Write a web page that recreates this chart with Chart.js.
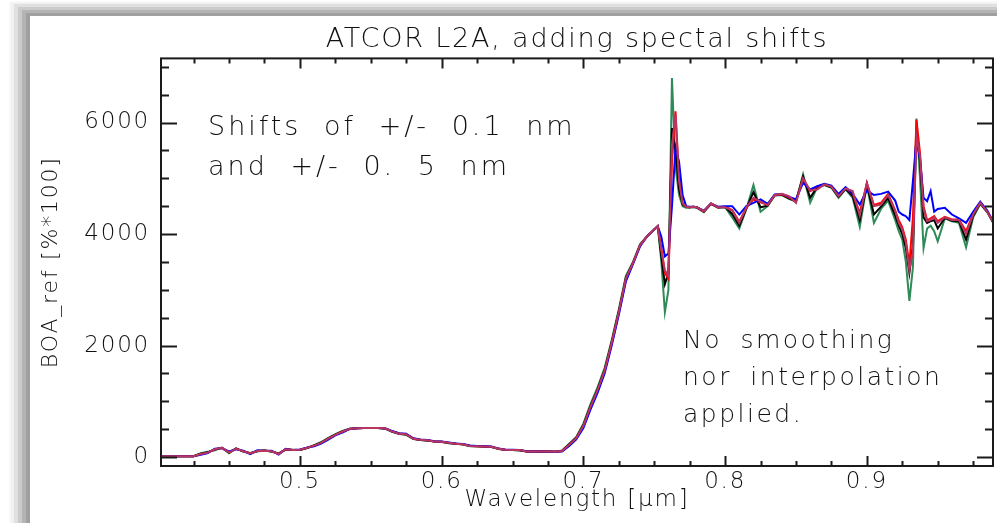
<!DOCTYPE html>
<html>
<head>
<meta charset="utf-8">
<script src="https://cdn.jsdelivr.net/npm/chart.js@4.4.0/dist/chart.umd.min.js"></script>
<style>
  html, body { margin: 0; padding: 0; background: #fff; }
  body { width: 997px; height: 523px; overflow: hidden; position: relative; }
  #panel {
    position: absolute; left: 30px; top: 16px; width: 1100px; height: 700px; background: #fff;
    box-shadow: -4px -3px 0 #a0a0a0, -8px -6px 0 #b4b4b4, -12px -9px 0 #cbcbcb,
                -16px -12px 0 #e0e0e0, -20px -14px 2px #f1f1f1;
  }
  #c { position: absolute; left: 0; top: 0; }
</style>
</head>
<body>
<div id="panel"></div>
<canvas id="c" width="997" height="523"></canvas>
<script>
// wavelength grid [um] - finer sampling around the O2 and H2O features
const wl = [
  0.400, 0.405, 0.410, 0.415, 0.420, 0.425, 0.430, 0.435, 0.440, 0.445,
  0.450, 0.455, 0.460, 0.465, 0.470, 0.475, 0.480, 0.485, 0.490, 0.495,
  0.500, 0.505, 0.510, 0.515, 0.520, 0.525, 0.530, 0.535, 0.540, 0.545,
  0.550, 0.555, 0.560, 0.565, 0.570, 0.575, 0.580, 0.585, 0.590, 0.595,
  0.600, 0.605, 0.610, 0.615, 0.620, 0.625, 0.630, 0.635, 0.640, 0.645,
  0.650, 0.655, 0.660, 0.665, 0.670, 0.675, 0.680, 0.685, 0.690, 0.695,
  0.700, 0.705, 0.710, 0.715, 0.720, 0.725, 0.730, 0.735, 0.740, 0.745,
  0.7475, 0.750, 0.7525, 0.755, 0.7575, 0.760, 0.7625, 0.765, 0.7675, 0.770,
  0.7725, 0.775, 0.7775, 0.780, 0.785, 0.790, 0.795, 0.800, 0.805, 0.810,
  0.815, 0.820, 0.825, 0.830, 0.835, 0.840, 0.845, 0.850, 0.855, 0.860,
  0.865, 0.870, 0.875, 0.880, 0.885, 0.890, 0.895, 0.900, 0.905, 0.910,
  0.915, 0.920, 0.9225, 0.925, 0.9275, 0.930, 0.9325, 0.935, 0.9375, 0.940,
  0.9425, 0.945, 0.9475, 0.950, 0.955, 0.960, 0.965, 0.970, 0.975, 0.980,
  0.985, 0.990
];

// BOA reflectance [%*100], no shift
const ref = [
  15, 15, 15, 15, 15, 15, 55, 80, 140, 165,
  85, 150, 105, 65, 110, 115, 105, 55, 140, 128,
  130, 165, 205, 255, 330, 400, 455, 505, 515, 520,
  520, 520, 515, 460, 420, 410, 330, 310, 300, 280,
  275, 255, 240, 230, 200, 195, 190, 185, 150, 130,
  128, 125, 100, 98, 98, 98, 95, 110, 220, 340,
  560, 900, 1200, 1550, 2050, 2600, 3200, 3480, 3800, 3960,
  4020, 4080, 4140, 3700, 3350, 3250, 5600, 6150, 4950, 4550,
  4490, 4480, 4490, 4480, 4410, 4550, 4480, 4480, 4420, 4200,
  4480, 4650, 4580, 4520, 4700, 4720, 4680, 4560, 5000, 4780,
  4800, 4890, 4850, 4680, 4820, 4770, 4330, 4920, 4500, 4530,
  4700, 4420, 4200, 4080, 3850, 3350, 3700, 5750, 5400, 4450,
  4230, 4250, 4300, 4200, 4300, 4250, 4250, 4000, 4350, 4560,
  4400, 4170
];

// shifted by -0.5 nm
const minus05 = [
  15, 15, 15, 15, 15, 15, 70, 95, 120, 170,
  70, 160, 95, 75, 100, 120, 95, 70, 130, 130,
  125, 160, 215, 270, 345, 410, 470, 510, 515, 520,
  520, 520, 510, 455, 415, 400, 325, 305, 295, 280,
  270, 250, 240, 225, 195, 195, 190, 180, 145, 128,
  125, 120, 100, 98, 98, 98, 95, 120, 240, 360,
  600, 950, 1250, 1600, 2100, 2650, 3250, 3500, 3820, 3960,
  4020, 4080, 4140, 3500, 2600, 3000, 6800, 5200, 4700, 4500,
  4470, 4470, 4480, 4470, 4390, 4540, 4470, 4480, 4300, 4100,
  4450, 4880, 4400, 4500, 4690, 4700, 4630, 4580, 5070, 4560,
  4840, 4880, 4830, 4650, 4800, 4650, 4130, 4880, 4200, 4450,
  4600, 4250, 4050, 3900, 3500, 2800, 3400, 6070, 5000, 3750,
  4100, 4150, 4050, 3870, 4280, 4230, 4200, 3760, 4300, 4540,
  4390, 4160
];

// shifted by -0.1 nm
const minus01 = [
  15, 15, 15, 15, 15, 15, 60, 85, 135, 165,
  80, 152, 102, 68, 108, 116, 102, 60, 138, 128,
  128, 163, 208, 260, 335, 402, 460, 507, 515, 520,
  520, 520, 514, 458, 418, 406, 328, 308, 298, 280,
  273, 253, 240, 228, 198, 195, 190, 183, 148, 129,
  127, 123, 100, 98, 98, 98, 95, 113, 228, 348,
  575, 915, 1215, 1565, 2065, 2615, 3215, 3485, 3805, 3960,
  4020, 4080, 4140, 3600, 3100, 3300, 5900, 5500, 4800, 4530,
  4490, 4480, 4490, 4480, 4400, 4540, 4475, 4485, 4360, 4150,
  4460, 4750, 4480, 4510, 4695, 4705, 4640, 4590, 5030, 4650,
  4845, 4885, 4840, 4670, 4810, 4680, 4250, 4890, 4350, 4490,
  4650, 4330, 4150, 4000, 3750, 3300, 3800, 5900, 5300, 4300,
  4200, 4230, 4250, 4100, 4290, 4240, 4230, 3900, 4330, 4550,
  4395, 4165
];

// shifted by +0.1 nm
const plus01 = [
  15, 15, 15, 15, 15, 15, 52, 78, 142, 164,
  88, 148, 107, 63, 112, 114, 107, 52, 142, 127,
  131, 166, 202, 250, 325, 398, 452, 503, 515, 520,
  520, 520, 516, 462, 422, 412, 332, 312, 301, 281,
  276, 257, 241, 232, 202, 196, 191, 186, 152, 131,
  129, 126, 101, 98, 98, 98, 95, 108, 215, 335,
  548, 885, 1185, 1535, 2035, 2585, 3185, 3475, 3795, 3960,
  4020, 4080, 4140, 3750, 3300, 3200, 5300, 6200, 5000, 4560,
  4490, 4480, 4490, 4480, 4410, 4545, 4480, 4490, 4430, 4220,
  4470, 4620, 4570, 4525, 4700, 4710, 4655, 4605, 4990, 4770,
  4850, 4890, 4855, 4700, 4825, 4720, 4380, 4910, 4520, 4560,
  4720, 4420, 4250, 4120, 3900, 3450, 4300, 6050, 5450, 4500,
  4250, 4280, 4320, 4230, 4310, 4260, 4260, 4050, 4360, 4565,
  4405, 4175
];

// shifted by +0.5 nm
const plus05 = [
  15, 15, 15, 15, 15, 15, 40, 70, 150, 160,
  100, 140, 115, 55, 120, 110, 115, 45, 150, 125,
  135, 170, 195, 240, 315, 390, 440, 500, 515, 520,
  520, 520, 518, 468, 428, 418, 338, 315, 305, 282,
  280, 260, 242, 235, 206, 198, 193, 190, 156, 133,
  131, 128, 103, 98, 98, 98, 95, 100, 200, 318,
  520, 850, 1150, 1500, 2000, 2550, 3150, 3460, 3780, 3960,
  4020, 4080, 4140, 3950, 3600, 3650, 4500, 5550, 5300, 4700,
  4500, 4490, 4490, 4480, 4420, 4550, 4490, 4500, 4500, 4350,
  4500, 4560, 4620, 4540, 4710, 4720, 4670, 4620, 4920, 4800,
  4860, 4900, 4870, 4720, 4840, 4720, 4530, 4780, 4700, 4720,
  4760, 4600, 4400, 4350, 4320, 4250, 4950, 5700, 5350, 4650,
  4590, 4770, 4400, 4450, 4470, 4350, 4280, 4200, 4400, 4580,
  4420, 4180
];

const xTicks = [0.5, 0.6, 0.7, 0.8, 0.9];
const yTicks = [0, 2000, 4000, 6000];

const FONT = "'DejaVu Sans', sans-serif";
const INK = '#111111';

// first dataset is drawn on top
const series = [
  { data: ref, color: '#b8365f' },
  { data: plus05, color: '#0000ff' },
  { data: plus01, color: '#ff0000' },
  { data: minus01, color: '#000000' },
  { data: minus05, color: '#2e8b57' },
];

// IDL-like plot box with inward tick marks on all sides
const boxPlugin = {
  id: 'box',
  beforeDraw(chart) {
    chart.ctx.letterSpacing = '1.8px';
  },
  afterDatasetsDraw(chart) {
    const { ctx, chartArea: a, scales: { x, y } } = chart;
    ctx.save();
    ctx.strokeStyle = '#1a1a1a';
    ctx.lineWidth = 2;
    ctx.strokeRect(a.left, a.top, a.right - a.left, a.bottom - a.top);
    ctx.beginPath();
    for (let i = 16; i <= 39; i++) {
      const px = Math.round(x.getPixelForValue(i * 0.025)) + 0.5;
      if (px <= a.left + 1 || px >= a.right - 1) continue;
      const len = i % 4 === 0 ? 10 : 5;
      ctx.moveTo(px, a.bottom); ctx.lineTo(px, a.bottom - len);
      ctx.moveTo(px, a.top); ctx.lineTo(px, a.top + len);
    }
    for (let v = 0; v <= 7000; v += 500) {
      const py = Math.round(y.getPixelForValue(v)) + 0.5;
      const len = v % 2000 === 0 ? 16 : 8;
      ctx.moveTo(a.left, py); ctx.lineTo(a.left + len, py);
      ctx.moveTo(a.right, py); ctx.lineTo(a.right - len, py);
    }
    ctx.stroke();
    ctx.restore();
  },
  afterDraw(chart) {
    const ctx = chart.ctx;
    ctx.save();
    ctx.fillStyle = INK;
    ctx.textAlign = 'left';
    ctx.textBaseline = 'alphabetic';
    ctx.letterSpacing = '3px';
    ctx.wordSpacing = '11px';
    ctx.font = `200 27px ${FONT}`;
    ctx.fillText('Shifts of +/- 0.1 nm', 208, 135);
    ctx.fillText('and +/- 0. 5 nm', 208, 175);
    ctx.letterSpacing = '2.5px';
    ctx.wordSpacing = '8px';
    ctx.font = `200 25px ${FONT}`;
    ctx.fillText('No smoothing', 683, 348);
    ctx.fillText('nor interpolation', 683, 385);
    ctx.fillText('applied.', 683, 422);
    ctx.restore();
  }
};

new Chart(document.getElementById('c'), {
  type: 'line',
  data: {
    datasets: series.map(s => ({
      data: wl.map((w, i) => ({ x: w, y: s.data[i] })),
      borderColor: s.color,
      borderWidth: 2,
      pointRadius: 0,
      tension: 0,
      fill: false,
    })),
  },
  options: {
    responsive: false,
    animation: false,
    events: [],
    layout: { padding: { left: 0, right: 4, top: 0, bottom: 0 } },
    plugins: {
      legend: { display: false },
      tooltip: { enabled: false },
      title: {
        display: true,
        text: 'ATCOR L2A, adding spectal shifts',
        fullSize: false,
        color: INK,
        font: { family: FONT, size: 27, weight: 200 },
        padding: { top: 24, bottom: 2 },
      },
    },
    scales: {
      x: {
        type: 'linear',
        min: 0.402,
        max: 0.989,
        afterBuildTicks: s => { s.ticks = xTicks.map(value => ({ value })); },
        afterFit: s => { s.height = 57; },
        grid: { display: false, drawTicks: false },
        border: { display: false },
        ticks: {
          color: INK, padding: 2, maxRotation: 0, autoSkip: false,
          font: { family: FONT, size: 23, weight: 200 },
          callback: v => v.toFixed(1),
        },
        title: {
          display: true, text: 'Wavelength [μm]', color: INK,
          font: { family: FONT, size: 23, weight: 200 },
          padding: { top: 0, bottom: 9 },
        },
      },
      y: {
        min: -160,
        max: 7150,
        afterBuildTicks: s => { s.ticks = yTicks.map(value => ({ value })); },
        afterFit: s => { s.width = 161; },
        grid: { display: false, drawTicks: false },
        border: { display: false },
        ticks: {
          color: INK, padding: 11, autoSkip: false,
          font: { family: FONT, size: 23, weight: 200 },
          callback: v => String(v),
        },
        title: {
          display: true, text: 'BOA_ref [%*100]', color: INK,
          font: { family: FONT, size: 22, weight: 200 },
          padding: { top: 38, bottom: 0 },
        },
      },
    },
  },
  plugins: [boxPlugin],
});
</script>
</body>
</html>
